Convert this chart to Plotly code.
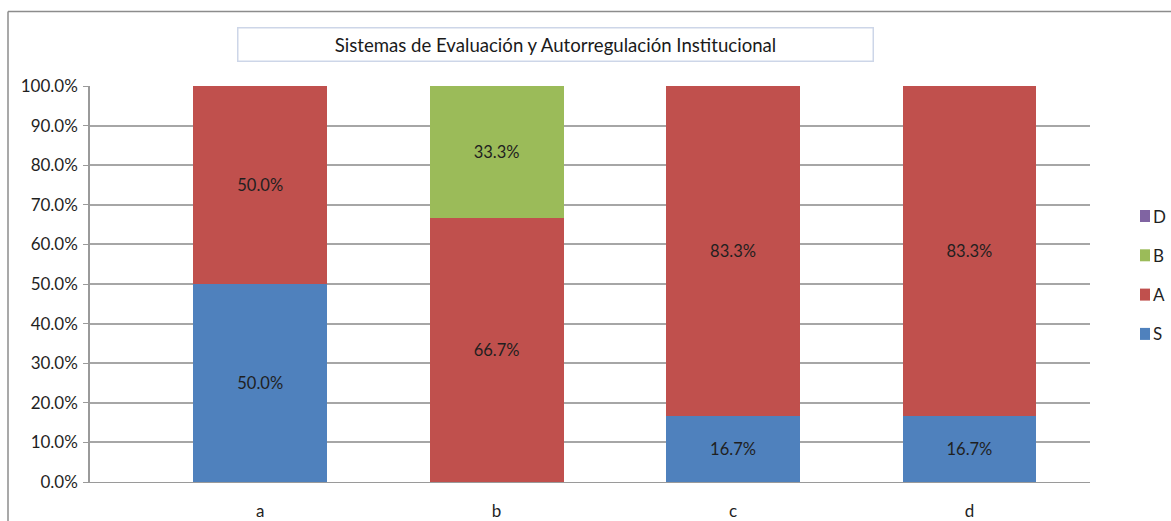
import plotly.graph_objects as go

# Category labels and per-series shares (percent)
categories = ["a", "b", "c", "d"]
series_names = ["S", "A", "B", "D"]
values_s = [50.0, 0.0, 16.7, 16.7]
values_a = [50.0, 66.7, 83.3, 83.3]
values_b = [0.0, 33.3, 0.0, 0.0]
values_d = [0.0, 0.0, 0.0, 0.0]
series_values = [values_s, values_a, values_b, values_d]
series_colors = ["#4F81BD", "#C0504D", "#9BBB59", "#8064A2"]
y_ticks = [0, 10, 20, 30, 40, 50, 60, 70, 80, 90, 100]

title_text = "Sistemas de Evaluación y Autorregulación Institucional"
FONT = "Lato, Open Sans, sans-serif"
TEXT_COLOR = "#1f1f1f"

W, H = 1171, 521
M_L, M_R, M_T, M_B = 90, 81, 86, 39
PW, PH = W - M_L - M_R, H - M_T - M_B


def px_to_paper_x(px):
    return (px - M_L) / PW


def px_to_paper_y(py):
    return (H - M_B - py) / PH


fig = go.Figure()
for name, vals, color in zip(series_names, series_values, series_colors):
    labels = [f"{v:.1f}%" if v > 0 else "" for v in vals]
    fig.add_trace(go.Bar(
        name=name,
        x=categories,
        y=vals,
        marker=dict(color=color, line=dict(width=0)),
        text=labels,
        textposition="inside",
        insidetextanchor="middle",
        textfont=dict(family=FONT, size=16.5, color=TEXT_COLOR),
        hoverinfo="skip",
        width=0.566,
        showlegend=False,
    ))

# Legend drawn as small swatches with labels, top to bottom: D, B, A, S
shapes = []
annotations = []
legend_top = 216
legend_step = 39.3
for i, (name, color) in enumerate(reversed(list(zip(series_names, series_colors)))):
    cy = legend_top + i * legend_step
    shapes.append(dict(
        type="rect", xref="paper", yref="paper",
        x0=px_to_paper_x(1140), x1=px_to_paper_x(1150),
        y0=px_to_paper_y(cy + 6), y1=px_to_paper_y(cy - 6),
        fillcolor=color, line=dict(width=0),
    ))
    annotations.append(dict(
        text=name, xref="paper", yref="paper",
        x=px_to_paper_x(1151), y=px_to_paper_y(cy),
        xanchor="left", yanchor="middle", showarrow=False,
        font=dict(family=FONT, size=17, color=TEXT_COLOR),
    ))

# Outer chart border (left and top edges)
shapes.append(dict(type="line", xref="paper", yref="paper",
                   x0=px_to_paper_x(8), x1=px_to_paper_x(8),
                   y0=px_to_paper_y(530), y1=px_to_paper_y(11.5),
                   line=dict(color="#8c8c8c", width=1.5)))
shapes.append(dict(type="line", xref="paper", yref="paper",
                   x0=px_to_paper_x(8), x1=px_to_paper_x(1180),
                   y0=px_to_paper_y(11.5), y1=px_to_paper_y(11.5),
                   line=dict(color="#8c8c8c", width=1.5)))

# Boxed chart title
annotations.append(dict(
    text=title_text,
    xref="paper", yref="paper",
    x=px_to_paper_x(555), y=px_to_paper_y(44),
    xanchor="center", yanchor="middle",
    showarrow=False,
    font=dict(family=FONT, size=18.6, color="#1a1a1a"),
    width=632, height=30,
    bordercolor="#cdd6e8", borderwidth=1.5,
    bgcolor="white",
))

fig.update_layout(
    barmode="stack",
    width=W,
    height=H,
    margin=dict(l=M_L, r=M_R, t=M_T, b=M_B, autoexpand=False),
    paper_bgcolor="white",
    plot_bgcolor="white",
    font=dict(family=FONT, size=17, color=TEXT_COLOR),
    showlegend=False,
    xaxis=dict(
        type="category",
        range=[-0.72, 3.51],
        automargin=False,
        showgrid=False,
        showline=True,
        linecolor="#9a9a9a",
        linewidth=1,
        ticks="",
        ticklabelstandoff=14,
        tickfont=dict(family=FONT, size=17, color=TEXT_COLOR),
    ),
    yaxis=dict(
        range=[0, 100],
        automargin=False,
        tickvals=y_ticks,
        ticktext=[f"{t:.1f}%" for t in y_ticks],
        showgrid=True,
        gridcolor="#a6a6a6",
        gridwidth=1.5,
        showline=True,
        linecolor="#9a9a9a",
        linewidth=1.5,
        ticks="outside",
        ticklen=5,
        tickcolor="#9a9a9a",
        ticklabelstandoff=2,
        zeroline=False,
        tickfont=dict(family=FONT, size=17, color=TEXT_COLOR),
    ),
    shapes=shapes,
    annotations=annotations,
)

fig.write_html("out.html")
